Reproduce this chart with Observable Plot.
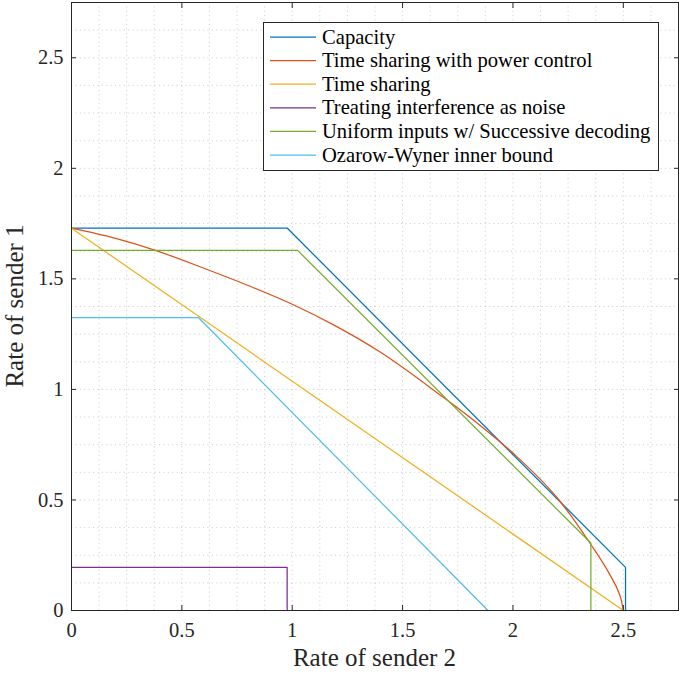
<!DOCTYPE html>
<html><head><meta charset="utf-8">
<script src="https://cdn.jsdelivr.net/npm/d3@7"></script>
<script src="https://cdn.jsdelivr.net/npm/@observablehq/plot@0.6"></script>
<style>body{margin:0;background:#fff;} #chart{position:relative;width:679px;height:674px;}
#chart svg text{font-family:'Liberation Serif','Times New Roman',serif;}</style>
</head><body><div id="chart"></div>
<script>
// ---- data ----
const seriesNames = [
  "Capacity",
  "Time sharing with power control",
  "Time sharing",
  "Treating interference as noise",
  "Uniform inputs w/ Successive decoding",
  "Ozarow-Wyner inner bound"
];
const seriesColors = ["#0072BD", "#D95319", "#EDB120", "#7E2F8E", "#77AC30", "#4DBEEE"];

const capacityX = [0, 0.978, 2.51, 2.51];
const capacityY = [1.729, 1.729, 0.195, 0];

const tsPowerX = [0, 0.2, 0.38, 0.6, 0.8, 1.0, 1.2, 1.4, 1.67, 1.85, 2.0, 2.2, 2.35, 2.44, 2.48, 2.49, 2.50];
const tsPowerY = [1.729, 1.683, 1.629, 1.548, 1.470, 1.385, 1.285, 1.168, 0.975, 0.838, 0.712, 0.510, 0.303, 0.160, 0.080, 0.050, 0];

const tsX = [0, 2.50];
const tsY = [1.729, 0];

const tinX = [0, 0.977, 0.977];
const tinY = [0.195, 0.195, 0];

const uniX = [0, 1.024, 2.353, 2.353];
const uniY = [1.629, 1.629, 0.305, 0];

const owX = [0, 0.575, 1.887];
const owY = [1.325, 1.325, 0];

const xTicks = [0, 0.5, 1, 1.5, 2, 2.5];
const yTicks = [0, 0.5, 1, 1.5, 2, 2.5];
const xTickLabels = ["0", "0.5", "1", "1.5", "2", "2.5"];
const yTickLabels = ["0", "0.5", "1", "1.5", "2", "2.5"];
const minorStep = 0.125;
const axisMax = 2.75;
const xLabel = "Rate of sender 2";
const yLabel = "Rate of sender 1";

// ---- build table ----
const seriesXY = [
  [capacityX, capacityY], [tsPowerX, tsPowerY], [tsX, tsY],
  [tinX, tinY], [uniX, uniY], [owX, owY]
];
const rows = [];
seriesXY.forEach(([xs, ys], i) => xs.forEach((x, j) => rows.push({series: seriesNames[i], x, y: ys[j]})));
const minor = d3.range(0, axisMax + 1e-9, minorStep);

const W = 679, H = 674, ML = 71, MR = 1, MT = 2, MB = 64;
const font = "'Liberation Serif', 'Times New Roman', serif";
const axisColor = "#262626";
const gridStyle = {stroke: "#9a9a9a", strokeOpacity: 0.5, strokeDasharray: "1,3.4", strokeWidth: 1};

const marks = [
  Plot.gridX(minor, gridStyle),
  Plot.gridY(minor, gridStyle),
];
seriesNames.forEach((name, i) => {
  marks.push(Plot.line(rows.filter(r => r.series === name), {
    x: "x", y: "y", stroke: seriesColors[i], strokeWidth: 1.25,
    curve: i === 1 ? "monotone-x" : "linear"
  }));
});
marks.push(
  Plot.frame({stroke: axisColor, strokeWidth: 1}),
  Plot.axisX(xTicks, {anchor: "bottom", tickSize: -5, tickPadding: 17, tickFormat: d => xTickLabels[xTicks.indexOf(d)], stroke: axisColor, fill: axisColor, fontSize: 20.5, fontFamily: font, label: null}),
  Plot.axisX(xTicks, {anchor: "top", tickSize: -5, tickFormat: () => "", stroke: axisColor, label: null}),
  Plot.axisY(yTicks, {anchor: "left", tickSize: -5, tickPadding: 13, tickFormat: d => yTickLabels[yTicks.indexOf(d)], stroke: axisColor, fill: axisColor, fontSize: 20.5, fontFamily: font, label: null}),
  Plot.axisY(yTicks, {anchor: "right", tickSize: -5, tickFormat: () => "", stroke: axisColor, label: null})
);

const chart = Plot.plot({
  width: W, height: H,
  marginLeft: ML, marginRight: MR, marginTop: MT, marginBottom: MB,
  style: {fontFamily: font, fontSize: "20px", background: "#fff", color: axisColor},
  x: {domain: [0, axisMax], label: null},
  y: {domain: [0, axisMax], label: null},
  marks
});
document.getElementById("chart").appendChild(chart);

// ---- axis labels & legend ----
const svg = d3.select(chart);
const plotW = W - ML - MR, plotH = H - MT - MB;
svg.append("text").attr("x", ML + plotW / 2).attr("y", H - 8)
  .attr("text-anchor", "middle").attr("font-size", 25).attr("font-family", font)
  .attr("fill", axisColor).text(xLabel);
svg.append("text").attr("transform", `translate(${23},${MT + plotH / 2}) rotate(-90)`)
  .attr("text-anchor", "middle").attr("font-size", 25).attr("font-family", font)
  .attr("fill", axisColor).text(yLabel);

const lg = svg.append("g").attr("font-family", font).attr("font-size", 20.6).attr("text-anchor", "start");
lg.append("rect").attr("x", 263.5).attr("y", 22.5).attr("width", 395).attr("height", 148)
  .attr("fill", "#fff").attr("stroke", axisColor).attr("stroke-width", 1);
seriesNames.forEach((name, i) => {
  const cy = 37 + i * 23.6;
  lg.append("line").attr("x1", 270).attr("x2", 316).attr("y1", cy).attr("y2", cy)
    .attr("stroke", seriesColors[i]).attr("stroke-width", 1.25);
  lg.append("text").attr("x", 322).attr("y", cy).attr("dy", "0.32em")
    .attr("text-anchor", "start").attr("fill", "#000").text(name);
});
</script>
</body></html>
